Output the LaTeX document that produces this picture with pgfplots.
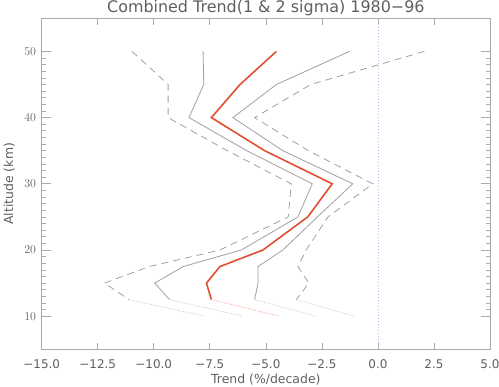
\documentclass[border=0pt]{standalone}
\usepackage{pgfplots}
\pgfplotsset{compat=1.18}
\usepackage{fontspec}
\setmainfont{DejaVu Sans}
\definecolor{txt}{RGB}{95,95,95}
\definecolor{axc}{RGB}{170,170,170}
\definecolor{ln}{RGB}{160,160,160}
\definecolor{lnd}{RGB}{200,200,200}
\definecolor{redl}{RGB}{225,78,48}
\definecolor{redd}{RGB}{245,175,160}
\definecolor{zero}{RGB}{190,190,235}
\begin{document}
\begin{tikzpicture}
\begin{axis}[
  at={(0,0)}, anchor=south west, scale only axis,
  width=448.3bp, height=331bp,
  xmin=-15, xmax=5, ymin=5, ymax=55,
  xtick={-15,-12.5,-10,-7.5,-5,-2.5,0,2.5,5},
  xticklabels={−15.0,−12.5,−10.0,−7.5,−5.0,−2.5,0.0,2.5,5.0},
  ytick={10,20,30,40,50},
  minor y tick num=9,
  tick align=inside,
  major tick length=9bp, minor tick length=4.5bp,
  xtick style={/pgfplots/major tick length=6.6bp},
  axis line style={axc, line width=0.7bp},
  tick style={axc, line width=0.7bp},
  every tick label/.append style={font=\fontsize{12}{12}\selectfont, text=txt},
  xticklabel style={anchor=base, yshift=-19bp},
  yticklabel style={anchor=east, inner sep=0pt, xshift=-5.5bp},
  title={Combined Trend(1 \& 2 sigma) 1980−96},
  title style={at={(axis description cs:0.5,1.0169)}, anchor=base, inner sep=0pt, yshift=-6pt,
    font=\fontsize{16}{16}\selectfont, text=txt},
  xlabel={Trend (\%/decade)},
  xlabel style={at={(axis description cs:0.5,-0.1033)}, anchor=base, inner sep=0pt,
    font=\fontsize{12.5}{12.5}\selectfont, text=txt},
  ylabel={Altitude (km)},
  ylabel style={at={(axis description cs:-0.064,0.5)}, anchor=base, inner sep=0pt,
    font=\fontsize{12.5}{12.5}\selectfont, text=txt},
  clip=false,
]
% zero line
\addplot[zero, line width=0.8bp, dash pattern=on 1bp off 2bp] coordinates {(0,5) (0,55)};
% 2-sigma dashed
\addplot[ln, line width=0.8bp, dash pattern=on 7bp off 5bp] coordinates {
 (-10.97,50) (-9.36,45) (-9.36,40) (-6.72,35) (-3.87,30) (-4.00,25) (-7.05,20) (-10.2,17.5) (-12.2,15) (-11.1,12.5)};
\addplot[ln, line width=0.8bp, dash pattern=on 7bp off 5bp] coordinates {
 (2.07,50) (-3.0,45) (-5.5,40) (-3.1,35) (-0.23,30) (-2.23,25) (-3.2,20) (-3.57,17.5) (-3.08,15) (-3.64,12.5)};
% 1-sigma solid
\addplot[ln, line width=0.8bp] coordinates {
 (-7.80,50) (-7.77,45) (-8.43,40) (-5.85,35) (-2.93,30) (-3.57,25) (-6.09,20) (-8.69,17.5) (-9.96,15) (-9.29,12.5)};
\addplot[ln, line width=0.8bp] coordinates {
 (-1.27,50) (-4.53,45) (-6.47,40) (-4.24,35) (-1.12,30) (-2.70,25) (-4.24,20) (-5.35,17.5) (-5.35,15) (-5.50,12.5)};
% trend
\addplot[redl, line width=1.6bp] coordinates {
 (-4.53,50) (-6.15,45) (-7.43,40) (-5.05,35) (-2.04,30) (-3.13,25) (-5.13,20) (-7.05,17.5) (-7.65,15) (-7.43,12.5)};
% dotted lowest segments
\addplot[lnd, line width=0.8bp, dash pattern=on 1bp off 1.5bp] coordinates {(-11.1,12.5) (-7.73,10)};
\addplot[lnd, line width=0.8bp, dash pattern=on 1bp off 1.5bp] coordinates {(-9.29,12.5) (-6.02,10)};
\addplot[redd, line width=1.0bp, dash pattern=on 1bp off 1.5bp] coordinates {(-7.43,12.5) (-4.39,10)};
\addplot[lnd, line width=0.8bp, dash pattern=on 1bp off 1.5bp] coordinates {(-5.50,12.5) (-2.75,10)};
\addplot[lnd, line width=0.8bp, dash pattern=on 1bp off 1.5bp] coordinates {(-3.64,12.5) (-1.05,10)};
\end{axis}
\pgfresetboundingbox
\path[use as bounding box] (-41.7bp,-37.7bp) rectangle (457.3bp,349.3bp);
\end{tikzpicture}
\end{document}
